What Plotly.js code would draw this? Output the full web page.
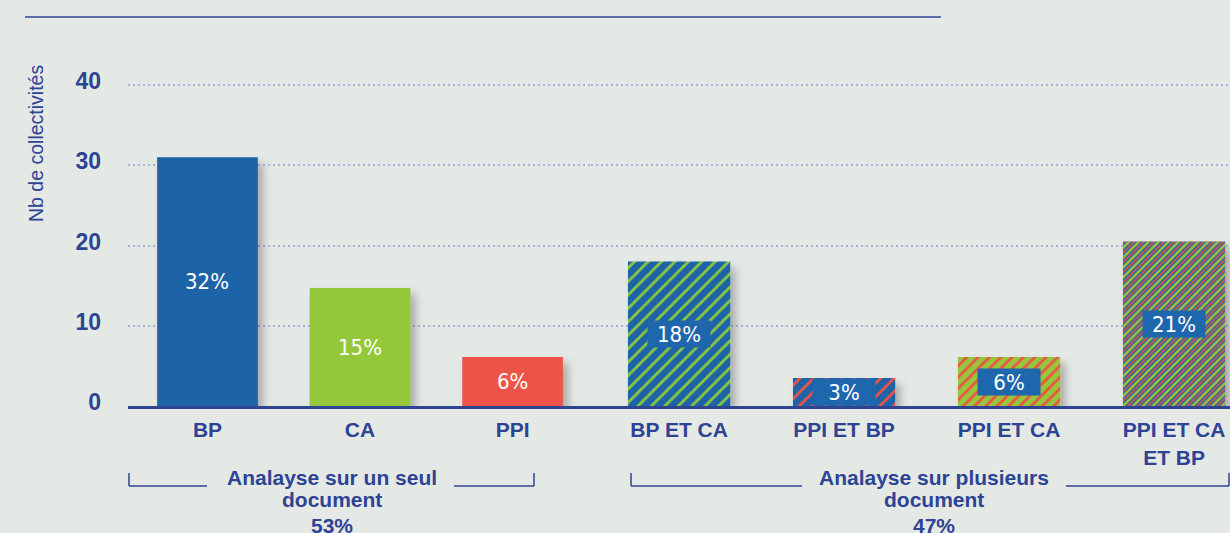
<!DOCTYPE html>
<html>
<head>
<meta charset="utf-8">
<script src="https://cdn.plot.ly/plotly-3.0.1.min.js"></script>
<style>
  html, body { margin: 0; padding: 0; background: #e5e9e6; }
  #chart { width: 1230px; height: 533px; }
</style>
</head>
<body>
<div id="chart"></div>
<script>
// --- Data ---
const singleCats = ['BP', 'CA', 'PPI'];
const singleValues = [31, 14.7, 6.1];
const singleShares = ['32%', '15%', '6%'];

const multiCats = ['BP ET CA', 'PPI ET BP', 'PPI ET CA', 'PPI ET CA<br>ET BP'];
const multiValues = [18, 3.5, 6.1, 20.5];
const multiShares = ['18%', '3%', '6%', '21%'];

const groupTitles = ['Analayse sur un seul', 'Analayse sur plusieurs'];
const groupSubtitles = ['document', 'document'];
const groupShares = ['53%', '47%'];

const yTicks = [0, 10, 20, 30, 40];
const yTitle = 'Nb de collectivités';

// --- Colours ---
const navy = '#2d4394';
const blue = '#1b63a8';
const green = '#95c73b';
const red = '#ee5246';
const labelBox = '#1f67ad';

// plot area in page pixels (left 128, right 1230, top 77, bottom 406)
function px2x(px) { return (px - 128) / 1102; }
function px2y(py) { return (406 - py) / 329; }

const singleTrace = {
    type: 'bar', x: singleCats, y: singleValues, xaxis: 'x', yaxis: 'y',
    width: 0.66,
    marker: { color: [blue, green, red], line: { width: 0 } },
    hoverinfo: 'x+y'
};

const multiTrace = {
    type: 'bar', x: multiCats, y: multiValues, xaxis: 'x2', yaxis: 'y',
    width: 0.62,
    marker: {
        color: blue,
        line: { width: 0 },
        pattern: {
            shape: '/',
            fillmode: 'replace',
            bgcolor: [blue, blue, green, blue],
            fgcolor: ['#8cc63f', red, red, red],
            size: [9.5, 9.5, 8, 3.5],
            solidity: [0.3, 0.3, 0.35, 0.45]
        }
    },
    hoverinfo: 'x+y'
};

// third colour of the last bar's stripes
const stripeTrace = {
    type: 'bar', x: [multiCats[3]], y: [multiValues[3]], xaxis: 'x2', yaxis: 'y',
    width: 0.62,
    marker: {
        color: green,
        line: { width: 0 },
        pattern: { shape: '/', fillmode: 'replace', fgcolor: green, size: 7, solidity: 0.35 }
    },
    hoverinfo: 'skip'
};

const annotations = [];
const labelFont = { family: 'DejaVu Sans Condensed, DejaVu Sans', size: 22, color: '#ffffff' };

singleValues.forEach((v, i) => {
    annotations.push({
        xref: 'x', yref: 'y', x: i, y: v / 2, text: singleShares[i],
        showarrow: false, font: labelFont
    });
});
multiValues.forEach((v, i) => {
    annotations.push({
        xref: 'x2', yref: 'y', x: i, y: v / 2, text: multiShares[i],
        showarrow: false, font: labelFont,
        bgcolor: labelBox, width: 58, height: 22, borderpad: 2
    });
});

// y axis title
annotations.push({
    xref: 'paper', yref: 'paper', x: px2x(36), y: px2y(144), text: yTitle,
    textangle: -90, showarrow: false, xanchor: 'center', yanchor: 'middle',
    font: { family: 'Liberation Sans, Arial', size: 19.5, color: navy }
});

// group labels under the axis
const groupCenters = [332, 934];
const groupFont = { family: 'Liberation Sans, Arial', size: 21, color: navy, weight: 700 };
groupTitles.forEach((t, i) => {
    [[t, 477], [groupSubtitles[i], 499], [groupShares[i], 525]].forEach(([txt, py]) => {
        annotations.push({
            xref: 'paper', yref: 'paper', x: px2x(groupCenters[i]), y: px2y(py),
            text: txt, showarrow: false, xanchor: 'center', yanchor: 'middle', font: groupFont
        });
    });
});

// bracket lines and the top rule
function hline(x0, x1, py, w) {
    return { type: 'line', xref: 'paper', yref: 'paper', x0: px2x(x0), x1: px2x(x1), y0: px2y(py), y1: px2y(py),
             line: { color: navy, width: w || 1.5 } };
}
function vline(px, y0, y1) {
    return { type: 'line', xref: 'paper', yref: 'paper', x0: px2x(px), x1: px2x(px), y0: px2y(y0), y1: px2y(y1),
             line: { color: navy, width: 1.5 } };
}
const shapes = [
    hline(25, 941, 17, 1.5),
    vline(129, 473, 486), hline(129, 207, 486), hline(454, 534, 486), vline(534, 473, 486),
    vline(631, 473, 486), hline(631, 802, 486), hline(1066, 1229, 486), vline(1229, 473, 486)
];

const xTickFont = { family: 'Liberation Sans, Arial', size: 21, color: navy, weight: 700 };

const layout = {
    width: 1230, height: 533,
    margin: { l: 128, r: 0, t: 77, b: 127, pad: 0 },
    paper_bgcolor: '#e5e9e6', plot_bgcolor: '#e5e9e6',
    barmode: 'overlay',
    showlegend: false,
    xaxis: {
        domain: [0, 0.42], range: [-0.521, 2.513], type: 'category',
        showline: true, linecolor: navy, linewidth: 3,
        showgrid: false, zeroline: false, ticks: '', tickfont: xTickFont,
        ticklabelstandoff: 3, fixedrange: true
    },
    xaxis2: {
        domain: [0.42, 1], range: [-0.535, 3.339], type: 'category', anchor: 'y',
        showline: true, linecolor: navy, linewidth: 3,
        showgrid: false, zeroline: false, ticks: '', tickfont: xTickFont,
        ticklabelstandoff: 3, fixedrange: true
    },
    yaxis: {
        range: [0, 41], tickvals: yTicks, ticktext: yTicks.map(String),
        showgrid: true, gridcolor: '#a4b3dd', gridwidth: 2, griddash: '2px,3px',
        zeroline: false, showline: false, ticks: '',
        tickfont: { family: 'Liberation Sans, Arial', size: 23, color: navy, weight: 700 },
        ticklabelstandoff: 26, ticklabelshift: -4, fixedrange: true
    },
    annotations: annotations,
    shapes: shapes
};

// soft shadow filter, put into plotly's own svg defs
function addShadow(gd) {
    const ns = 'http://www.w3.org/2000/svg';
    const defs = gd.querySelector('svg.main-svg defs');
    if (!defs) return;
    const filter = document.createElementNS(ns, 'filter');
    filter.setAttribute('id', 'barShadow');
    filter.setAttribute('x', '-20%');
    filter.setAttribute('y', '-20%');
    filter.setAttribute('width', '150%');
    filter.setAttribute('height', '150%');
    const shadow = document.createElementNS(ns, 'feDropShadow');
    shadow.setAttribute('dx', '5');
    shadow.setAttribute('dy', '6');
    shadow.setAttribute('stdDeviation', '4');
    shadow.setAttribute('flood-color', '#000000');
    shadow.setAttribute('flood-opacity', '0.28');
    filter.appendChild(shadow);
    defs.appendChild(filter);
    gd.querySelectorAll('.barlayer').forEach(layer => {
        const first = layer.querySelector('.trace');
        if (first) first.setAttribute('filter', 'url(#barShadow)');
    });
}

Plotly.newPlot('chart', [singleTrace, multiTrace, stripeTrace], layout, { displayModeBar: false, staticPlot: true })
    .then(addShadow);
</script>
</body>
</html>
